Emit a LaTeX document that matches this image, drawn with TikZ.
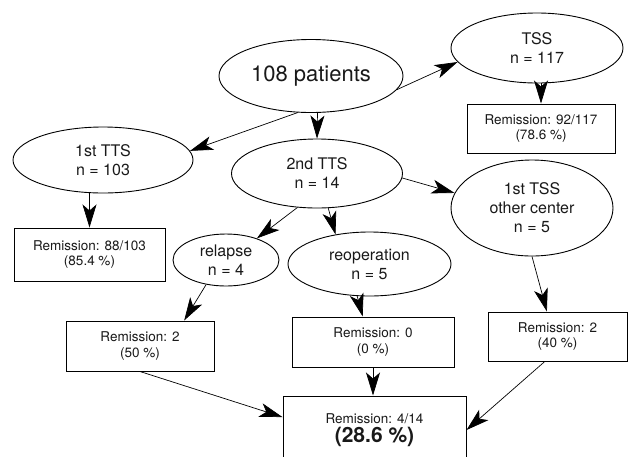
\documentclass[tikz,border=0pt]{standalone}
\usepackage{fontspec}
\setmainfont{TeX Gyre Heros}
\usetikzlibrary{arrows.meta,shapes.geometric}
\begin{document}
\begin{tikzpicture}[x=1pt,y=-1pt,
        bubble/.style={ellipse,draw,line width=0.9pt,inner sep=0pt,align=center,text=black!90,
            font=\fontsize{16}{19}\selectfont},
        outcome/.style={rectangle,draw,line width=1pt,inner sep=0pt,align=center,text=black!90,
            font=\fontsize{13.5}{15.5}\selectfont},
        flow/.style={line width=0.7pt,-{Stealth[length=23pt,width=14pt,inset=6pt]}}]
        \useasboundingbox (0,0) rectangle (628,456);

        \node[bubble,minimum width=184pt,minimum height=73pt,font=\fontsize{22}{26}\selectfont] (pat) at (311,76) {108 patients};
        \node[bubble,minimum width=172pt,minimum height=70pt] (tss) at (537,48) {TSS\\n = 117};
        \node[bubble,minimum width=180pt,minimum height=66pt] (ttsA) at (103,160) {1st TTS\\n = 103};
        \node[bubble,minimum width=171pt,minimum height=69pt] (ttsB) at (317,173.5) {2nd TTS\\n = 14};
        \node[bubble,minimum width=162pt,minimum height=96pt] (other) at (532,208) {1st TSS\\other center\\n = 5};
        \node[bubble,minimum width=106pt,minimum height=52pt] (relapse) at (226,260) {relapse\\n = 4};
        \node[bubble,minimum width=163pt,minimum height=64pt] (reop) at (369.5,264) {reoperation\\n = 5};

        \node[outcome,minimum width=148pt,minimum height=49pt] (rTSS) at (541,128.5) {Remission: 92/117\\(78.6 \%)};
        \node[outcome,minimum width=151pt,minimum height=53pt] (rA) at (89.5,254.5) {Remission: 88/103\\(85.4 \%)};
        \node[outcome,minimum width=148pt,minimum height=50pt] (rRel) at (140,346) {Remission: 2\\(50 \%)};
        \node[outcome,minimum width=162pt,minimum height=50pt] (rReop) at (373,342) {Remission: 0\\(0 \%)};
        \node[outcome,minimum width=139pt,minimum height=49pt] (rOther) at (557.5,336.5) {Remission: 2\\(40 \%)};
        \node[outcome,minimum width=183pt,minimum height=68pt] (rAll) at (374.5,430) {Remission: 4/14\\[2pt]{\fontsize{21}{21}\selectfont\bfseries (28.6 \%)}};

        \draw[flow] (pat.-9) -- (tss.190);
        \draw[flow] (pat.-110) -- (ttsA.6);
        \draw[flow] (pat.-80) -- (ttsB.north);
        \draw[flow] (rTSS.north |- tss.south) -- (rTSS.north);
        \draw[flow] (rA.north |- ttsA.south) -- (rA.north);
        \draw[flow] (ttsB.-120) -- (relapse.35);
        \draw[flow] (ttsB.-72) -- (reop.139);
        \draw[flow] (ttsB.-3) -- (other.169);
        \draw[flow] (relapse.-129) -- (rRel.30);
        \draw[flow] (reop.-111) -- (rReop.112);
        \draw[flow] (other.south) -- (rOther.113);
        \draw[flow] (rRel.south) -- (rAll.172);
        \draw[flow] (rReop.south) -- (rReop.south |- rAll.north);
        \draw[flow] (rOther.-117) -- (rAll.east);
    \end{tikzpicture}
\end{document}
